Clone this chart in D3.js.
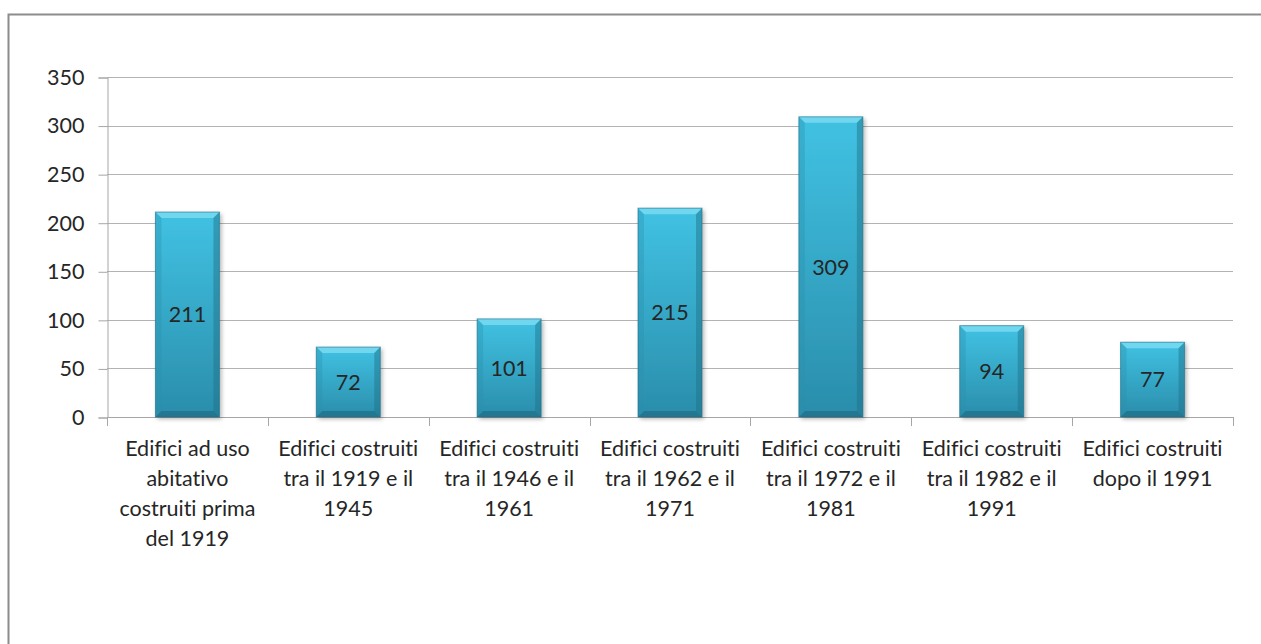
<!DOCTYPE html>
<html>
<head>
<meta charset="utf-8">
<script src="https://cdn.jsdelivr.net/npm/d3@7"></script>
<style>
  html, body { margin: 0; padding: 0; background: #fff; }
  svg { display: block; }
  text { font-family: Lato, "Open Sans", sans-serif; fill: #262626; font-variant-ligatures: none; }
</style>
</head>
<body>
<svg id="chart" width="1261" height="644"></svg>
<script>
// Edifici per epoca di costruzione
const categories = [
  ["Edifici ad uso", "abitativo", "costruiti prima", "del 1919"],
  ["Edifici costruiti", "tra il 1919 e il", "1945"],
  ["Edifici costruiti", "tra il 1946 e il", "1961"],
  ["Edifici costruiti", "tra il 1962 e il", "1971"],
  ["Edifici costruiti", "tra il 1972 e il", "1981"],
  ["Edifici costruiti", "tra il 1982 e il", "1991"],
  ["Edifici costruiti", "dopo il 1991"]
];
const values = [211, 72, 101, 215, 309, 94, 77];
const yTicks = [0, 50, 100, 150, 200, 250, 300, 350];

const svg = d3.select("#chart");
const plotLeft = 107, plotRight = 1233, plotTop = 77, plotBottom = 417;
const fontSize = 21.5;

// chart frame
svg.append("rect")
  .attr("x", 8.5).attr("y", 14.5)
  .attr("width", 1270).attr("height", 700)
  .attr("fill", "none").attr("stroke", "#8c8c8c").attr("stroke-width", 2);

const x = d3.scaleBand().domain(d3.range(values.length)).range([plotLeft, plotRight]).paddingInner(0).paddingOuter(0);
const y = d3.scaleLinear().domain([0, 350]).range([plotBottom, plotTop]);

const defs = svg.append("defs");
const grad = defs.append("linearGradient").attr("id", "barFill").attr("x1", 0).attr("y1", 0).attr("x2", 0).attr("y2", 1);
grad.append("stop").attr("offset", "0%").attr("stop-color", "#41c2e3");
grad.append("stop").attr("offset", "100%").attr("stop-color", "#2a8dab");
const sh = defs.append("filter").attr("id", "shadow").attr("x", "-20%").attr("y", "-10%").attr("width", "150%").attr("height", "130%");
sh.append("feDropShadow").attr("dx", 2).attr("dy", 2).attr("stdDeviation", 2).attr("flood-color", "#000").attr("flood-opacity", 0.3);

// gridlines
svg.append("g")
  .selectAll("line").data(yTicks.filter(d => d > 0)).join("line")
  .attr("x1", plotLeft).attr("x2", plotRight)
  .attr("y1", d => Math.round(y(d)) + 0.5).attr("y2", d => Math.round(y(d)) + 0.5)
  .attr("stroke", "#b3b3b3").attr("stroke-width", 1);

// value axis
const yAxis = svg.append("g").attr("transform", `translate(${plotLeft + 0.5},0.5)`)
  .call(d3.axisLeft(y).tickValues(yTicks).tickSize(9).tickPadding(14));
yAxis.select(".domain").attr("stroke", "#a6a6a6");
yAxis.selectAll(".tick line").attr("stroke", "#a6a6a6");
yAxis.selectAll(".tick text").attr("font-size", fontSize).style("font-family", "Lato, sans-serif").attr("fill", "#262626");

// category axis
svg.append("line").attr("x1", plotLeft).attr("x2", plotRight + 1)
  .attr("y1", plotBottom + 0.5).attr("y2", plotBottom + 0.5).attr("stroke", "#a6a6a6");
const bounds = d3.range(values.length + 1).map(i => i < values.length ? x(i) : plotRight);
svg.append("g").selectAll("line").data(bounds).join("line")
  .attr("x1", d => Math.round(d) + 0.5).attr("x2", d => Math.round(d) + 0.5)
  .attr("y1", plotBottom).attr("y2", plotBottom + 9)
  .attr("stroke", "#a6a6a6");

// bars with bevel
const barW = 64, bev = 6;
const bars = svg.append("g").selectAll("g").data(values).join("g")
  .attr("transform", (d, i) => `translate(${x(i) + x.bandwidth() / 2 - barW / 2},${y(d)})`);
bars.append("rect")
  .attr("width", barW).attr("height", d => plotBottom - y(d))
  .attr("fill", "url(#barFill)").attr("filter", "url(#shadow)");
// top bevel
bars.append("path")
  .attr("d", `M0,0 L${barW},0 L${barW - bev},${bev} L${bev},${bev} Z`)
  .attr("fill", "#7ddcf2").attr("opacity", 0.8);
// right bevel
bars.append("path")
  .attr("d", d => { const h = plotBottom - y(d); return `M${barW},0 L${barW},${h} L${barW - bev},${h - bev} L${barW - bev},${bev} Z`; })
  .attr("fill", "#1f6f86").attr("opacity", 0.45);
// bottom bevel
bars.append("path")
  .attr("d", d => { const h = plotBottom - y(d); return `M0,${h} L${barW},${h} L${barW - bev},${h - bev} L${bev},${h - bev} Z`; })
  .attr("fill", "#1c5f73").attr("opacity", 0.5);
// left bevel
bars.append("path")
  .attr("d", d => { const h = plotBottom - y(d); return `M0,0 L${bev},${bev} L${bev},${h - bev} L0,${h} Z`; })
  .attr("fill", "#2a8fab").attr("opacity", 0.35);
bars.append("rect")
  .attr("width", barW).attr("height", d => plotBottom - y(d))
  .attr("fill", "none").attr("stroke", "#1f6f86").attr("stroke-opacity", 0.6).attr("stroke-width", 1);

// value labels
bars.append("text")
  .attr("x", barW / 2).attr("y", d => (plotBottom - y(d)) / 2)
  .attr("dy", "0.36em").attr("text-anchor", "middle")
  .attr("font-size", fontSize).attr("fill", "#1a1a1a")
  .text(d => d);

// category labels
const cat = svg.append("g").selectAll("text").data(categories).join("text")
  .attr("text-anchor", "middle").attr("font-size", fontSize)
  .attr("x", (d, i) => x(i) + x.bandwidth() / 2)
  .attr("y", 456);
cat.selectAll("tspan").data(d => d).join("tspan")
  .attr("x", function () { return d3.select(this.parentNode).attr("x"); })
  .attr("dy", (d, j) => j === 0 ? 0 : 30)
  .text(d => d);
</script>
</body>
</html>
